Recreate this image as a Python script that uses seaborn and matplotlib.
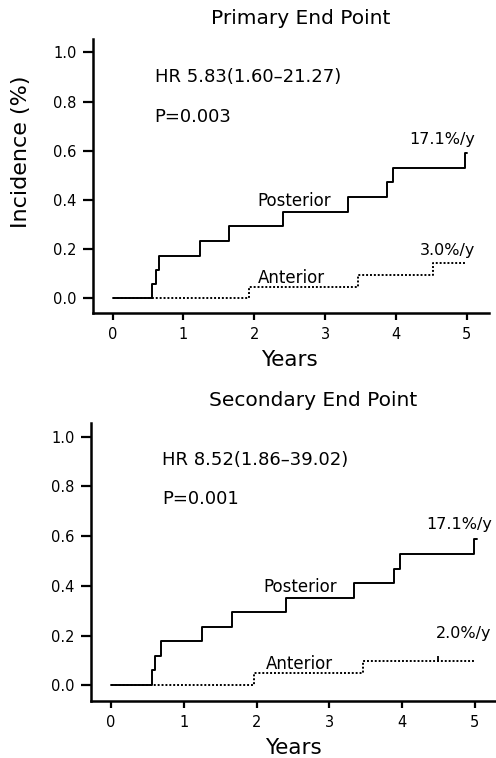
import numpy as np
import pandas as pd
import matplotlib
matplotlib.use("Agg")
import matplotlib.pyplot as plt
import seaborn as sns

# step data (time in years, cumulative incidence)
prim_post_t = [0, 0.557, 0.61, 0.66, 1.23, 1.65, 2.40, 3.33, 3.88, 3.96, 4.97, 5.0]
prim_post_y = [0, 0.057, 0.115, 0.173, 0.234, 0.293, 0.353, 0.412, 0.472, 0.530, 0.592, 0.592]
prim_ant_t = [0, 1.93, 3.47, 4.52, 4.98]
prim_ant_y = [0, 0.048, 0.094, 0.142, 0.142]

sec_post_t = [0, 0.568, 0.61, 0.68, 1.25, 1.66, 2.41, 3.34, 3.89, 3.97, 4.99, 5.03]
sec_post_y = [0, 0.060, 0.117, 0.177, 0.235, 0.293, 0.351, 0.411, 0.469, 0.529, 0.588, 0.588]
sec_ant_t = [0, 1.96, 3.47, 5.0]
sec_ant_y = [0, 0.048, 0.096, 0.096]
sec_censor_t = [4.50]
sec_censor_y = [0.105]

titles = ["Primary End Point", "Secondary End Point"]
hr_texts = ["HR 5.83(1.60\u201321.27)", "HR 8.52(1.86\u201339.02)"]
p_texts = ["P=0.003", "P=0.001"]
post_rates = ["17.1%/y", "17.1%/y"]
ant_rates = ["3.0%/y", "2.0%/y"]
yticks = [0.0, 0.2, 0.4, 0.6, 0.8, 1.0]
xticks = [0, 1, 2, 3, 4, 5]

sns.set_style("ticks")
plt.rcParams["font.family"] = ["DejaVu Sans"]
plt.rcParams["text.color"] = "black"
plt.rcParams["xtick.color"] = "black"
plt.rcParams["ytick.color"] = "black"
plt.rcParams["axes.edgecolor"] = "black"

fig = plt.figure(figsize=(4.96, 7.58), dpi=100)
ax1 = fig.add_axes([0.187, 0.5875, 0.7995, 0.3607])
ax2 = fig.add_axes([0.183, 0.0756, 0.815, 0.366])


def make_df(pt, py, at, ay):
    d1 = pd.DataFrame({"t": pt, "inc": py, "group": "Posterior"})
    d2 = pd.DataFrame({"t": at, "inc": ay, "group": "Anterior"})
    return pd.concat([d1, d2], ignore_index=True)


dfs = [make_df(prim_post_t, prim_post_y, prim_ant_t, prim_ant_y),
       make_df(sec_post_t, sec_post_y, sec_ant_t, sec_ant_y)]

for ax, df in zip([ax1, ax2], dfs):
    sns.lineplot(data=df, x="t", y="inc", style="group", estimator=None,
                 units="group", color="black", linewidth=1.4,
                 dashes={"Posterior": "", "Anterior": (1, 1)},
                 drawstyle="steps-post", legend=False, sort=False, ax=ax)
    ax.set_yticks(yticks)
    ax.set_yticklabels([f"{v:.1f}" for v in yticks])
    ax.set_xticks(xticks)
    ax.set_xlabel("")
    ax.set_ylabel("")
    for s in ["top", "right"]:
        ax.spines[s].set_visible(False)
    for s in ["left", "bottom"]:
        ax.spines[s].set_linewidth(1.8)
    ax.tick_params(axis="y", length=7.5, width=1.6, pad=4, labelsize=10.5)
    ax.tick_params(axis="x", length=5, width=1.6, pad=5, labelsize=10.5)

ax1.set_xlim(-0.28, 5.32)
ax1.set_ylim(-0.058, 1.053)
ax2.set_xlim(-0.28, 5.28)
ax2.set_ylim(-0.062, 1.054)

ax2.plot(sec_censor_t, sec_censor_y, marker="|", color="black",
         markersize=4, markeredgewidth=1.3, linestyle="none")

# annotations
ax1.text(0.594, 0.898, hr_texts[0], fontsize=13, va="center", ha="left")
ax1.text(0.594, 0.738, p_texts[0], fontsize=13, va="center", ha="left")
ax1.text(5.12, 0.646, post_rates[0], fontsize=11.5, va="center", ha="right")
ax1.text(2.05, 0.395, "Posterior", fontsize=12, va="center", ha="left")
ax1.text(5.12, 0.196, ant_rates[0], fontsize=11.5, va="center", ha="right")
ax1.text(2.05, 0.084, "Anterior", fontsize=12, va="center", ha="left")

ax2.text(0.706, 0.906, hr_texts[1], fontsize=13, va="center", ha="left")
ax2.text(0.706, 0.748, p_texts[1], fontsize=13, va="center", ha="left")
ax2.text(4.33, 0.645, post_rates[1], fontsize=11.5, va="center", ha="left")
ax2.text(2.10, 0.397, "Posterior", fontsize=12, va="center", ha="left")
ax2.text(4.47, 0.209, ant_rates[1], fontsize=11.5, va="center", ha="left")
ax2.text(2.13, 0.086, "Anterior", fontsize=12, va="center", ha="left")

fig.text(0.607, 0.975, titles[0], fontsize=14.5, ha="center", va="center")
fig.text(0.632, 0.4714, titles[1], fontsize=14.5, ha="center", va="center")
fig.text(0.583, 0.525, "Years", fontsize=15.5, ha="center", va="center")
fig.text(0.591, 0.0128, "Years", fontsize=15.5, ha="center", va="center")
fig.text(0.042, 0.80, "Incidence (%)", fontsize=16, ha="center", va="center",
         rotation=90)

fig.savefig("out.png", dpi=100)
